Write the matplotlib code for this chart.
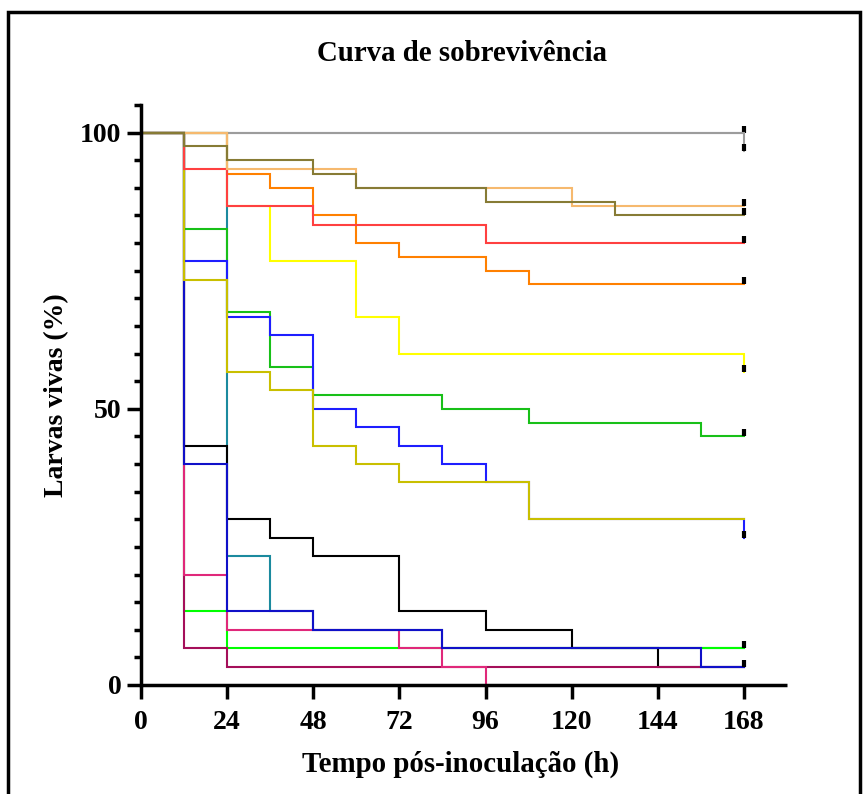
import matplotlib
matplotlib.use("Agg")
import matplotlib.pyplot as plt
from matplotlib.path import Path
from matplotlib.patches import Rectangle

plt.rcParams['font.family'] = ['Liberation Serif', 'DejaVu Serif']
plt.rcParams['font.weight'] = 'bold'

title = "Curva de sobrevivência"
xlabel = "Tempo pós-inoculação (h)"
ylabel = "Larvas vivas (%)"
xticks = [0, 24, 48, 72, 96, 120, 144, 168]
yticks = [0, 50, 100]

# Kaplan-Meier step data (time of change, survival %), drawn bottom -> top
lavender_t = [0, 168]
lavender_v = [100, 100]
gray_t = [0, 168]
gray_v = [100, 96.67]
teal_t = [0, 24, 36, 48, 84, 168]
teal_v = [100, 23.33, 13.33, 10, 6.67, 6.67]
yellow_t = [0, 24, 36, 60, 72, 168]
yellow_v = [100, 86.67, 76.67, 66.67, 60, 56.67]
orange_t = [0, 24, 36, 48, 60, 72, 96, 108, 168]
orange_v = [100, 92.5, 90, 85, 80, 77.5, 75, 72.5, 72.5]
lime_t = [0, 12, 24, 168]
lime_v = [100, 13.33, 6.67, 6.67]
black_t = [0, 12, 24, 36, 48, 72, 96, 120, 144, 168]
black_v = [100, 43.33, 30, 26.67, 23.33, 13.33, 10, 6.67, 3.33, 3.33]
crimson_t = [0, 12, 24, 168]
crimson_v = [100, 6.67, 3.33, 3.33]
pink_t = [0, 12, 24, 72, 84, 96]
pink_v = [100, 20, 10, 6.67, 3.33, 0]
navy_t = [0, 12, 24, 48, 84, 156, 168]
navy_v = [100, 40, 13.33, 10, 6.67, 3.33, 3.33]
green_t = [0, 12, 24, 36, 48, 84, 108, 156, 168]
green_v = [100, 82.5, 67.5, 57.5, 52.5, 50, 47.5, 45, 45]
blue_t = [0, 12, 24, 36, 48, 60, 72, 84, 96, 108, 168]
blue_v = [100, 76.67, 66.67, 63.33, 50, 46.67, 43.33, 40, 36.67, 30, 26.67]
oliveyellow_t = [0, 12, 24, 36, 48, 60, 72, 108, 168]
oliveyellow_v = [100, 73.33, 56.67, 53.33, 43.33, 40, 36.67, 30, 30]
red_t = [0, 12, 24, 48, 96, 168]
red_v = [100, 93.33, 86.67, 83.33, 80, 80]
lightorange_t = [0, 24, 60, 120, 168]
lightorange_v = [100, 93.33, 90, 86.67, 86.67]
olive_t = [0, 12, 24, 48, 60, 96, 132, 168]
olive_v = [100, 97.5, 95, 92.5, 90, 87.5, 85, 85]

series = [
    (lavender_t, lavender_v, '#B9A9D6', True),
    (gray_t, gray_v, '#9C9C9C', True),
    (teal_t, teal_v, '#1B8A9E', False),
    (yellow_t, yellow_v, '#FFFF00', True),
    (orange_t, orange_v, '#FF8000', True),
    (lime_t, lime_v, '#00FF00', True),
    (black_t, black_v, '#000000', False),
    (crimson_t, crimson_v, '#A50F5A', False),
    (pink_t, pink_v, '#E0287A', False),
    (navy_t, navy_v, '#1010C8', True),
    (green_t, green_v, '#18C018', True),
    (blue_t, blue_v, '#1E1EFF', True),
    (oliveyellow_t, oliveyellow_v, '#C9BF00', False),
    (red_t, red_v, '#FF4040', True),
    (lightorange_t, lightorange_v, '#F6B96E', True),
    (olive_t, olive_v, '#877B35', True),
]

fig = plt.figure(figsize=(8.64, 7.94), dpi=100)
ax = fig.add_axes([0.1632, 0.1373, 0.9109 - 0.1632, 0.8678 - 0.1373])

censor_marker = Path([(0, 0), (0, 1)], [Path.MOVETO, Path.LINETO])

for t, v, c, cens in series:
    ax.step(t, v, where='post', color=c, lw=1.5, solid_joinstyle='miter')
    if cens:
        ax.plot([t[-1]], [v[-1]], linestyle='none', marker=censor_marker,
                ms=10, mew=3.0, color='black')

ax.set_xlim(0, 180)
ax.set_ylim(0, 105)
ax.set_xticks(xticks)
ax.set_yticks(yticks)
ax.set_yticks([5 * i for i in range(22)], minor=True)
ax.tick_params(axis='both', which='major', length=10, width=2.5,
               labelsize=20, pad=4)
ax.tick_params(axis='x', which='major', pad=8)
ax.tick_params(axis='y', which='minor', length=5, width=2.5)
ax.tick_params(axis='x', which='minor', length=0)
for lab in ax.get_xticklabels() + ax.get_yticklabels():
    lab.set_fontweight('bold')

for s in ['top', 'right']:
    ax.spines[s].set_visible(False)
for s in ['left', 'bottom']:
    ax.spines[s].set_linewidth(2.5)
ax.spines['bottom'].set_capstyle('butt')

ax.set_xlabel(xlabel, fontsize=20.8, fontweight='bold')
ax.xaxis.set_label_coords(0.495, -0.114)
ax.set_ylabel(ylabel, fontsize=20, fontweight='bold')
ax.yaxis.set_label_coords(-0.112, 0.5)

fig.text(0.535, 0.932, title, ha='center', va='center', fontsize=20.8,
         fontweight='bold')

# outer frame
frame = Rectangle((8 / 864, -0.05), (860 - 8) / 864, 1.05 - 12 / 794,
                  transform=fig.transFigure, fill=False, lw=2.5,
                  edgecolor='black')
fig.patches.append(frame)

fig.savefig('out.png', dpi=100)
